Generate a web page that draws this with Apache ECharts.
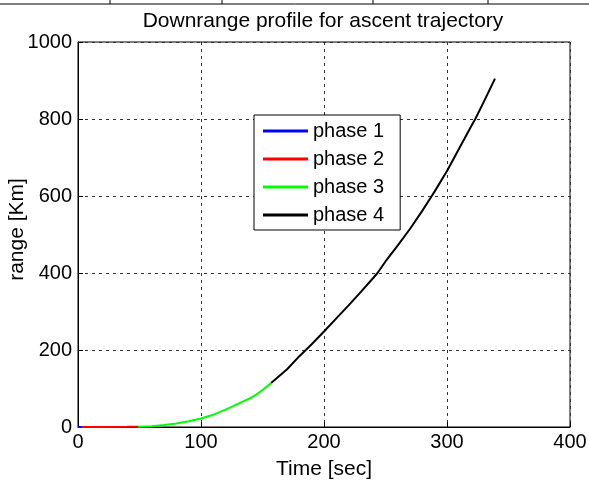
<!DOCTYPE html>
<html><head><meta charset="utf-8">
<script src="https://cdn.jsdelivr.net/npm/echarts@6/dist/echarts.min.js"></script>
<style>html,body{margin:0;padding:0;background:#fff}#c{width:589px;height:481px}</style>
</head><body><div id="c"></div>
<script>
const titleText = 'Downrange profile for ascent trajectory';
const xTicks = [0, 100, 200, 300, 400];
const yTicks = [0, 200, 400, 600, 800, 1000];
const seriesNames = ['phase 1', 'phase 2', 'phase 3', 'phase 4'];
const seriesColors = ['#0000ff', '#ff0000', '#00ff00', '#000000'];
const phase1T = [0, 1, 2, 3];
const phase1R = [0, 0, 0, 0.02];
const phase2T = [3, 10, 20, 30, 40, 49];
const phase2R = [0.02, 0.05, 0.12, 0.22, 0.35, 0.5];
const phase3T = [49, 60, 70, 80, 90, 100, 110, 120, 130, 140, 145, 150, 157];
const phase3R = [0.5, 2, 5, 9, 15, 22, 32, 45, 60, 75, 84, 96, 114];
const phase4T = [157, 170, 180, 190, 200, 210, 220, 230, 240, 243.5, 250, 260, 270, 280, 287.6, 290, 300, 310, 320, 323, 330, 339];
const phase4R = [114, 150, 184, 215, 248, 282, 316, 351, 387, 400, 430, 472, 515, 562, 600, 612, 665, 724, 783, 800, 845, 905];

const zip = (a, b) => a.map((v, i) => [v, b[i]]);
const phases = [zip(phase1T, phase1R), zip(phase2T, phase2R), zip(phase3T, phase3R), zip(phase4T, phase4R)];
const font = 'Arial, "Liberation Sans", sans-serif';

const chart = echarts.init(document.getElementById('c'), null, {renderer: 'canvas'});
chart.setOption({
  animation: false,
  backgroundColor: '#fff',
  title: {text: titleText, left: 318, top: 6, textAlign: 'center',
    textStyle: {fontFamily: font, fontSize: 21, fontWeight: 'normal', color: '#000'}},
  grid: {left: 78, right: 19, top: 42, bottom: 54, containLabel: false, outerBoundsMode: 'none',
    show: true, borderColor: '#000', borderWidth: 1},
  legend: {
    data: seriesNames, orient: 'vertical', left: 254, top: 115,
    backgroundColor: '#fff', borderColor: '#000', borderWidth: 1,
    padding: [6, 16, 5, 9], itemWidth: 45, itemHeight: 3, itemGap: 8, icon: 'rect',
    textStyle: {fontFamily: font, fontSize: 20, color: '#000'}
  },
  xAxis: {
    type: 'value', min: xTicks[0], max: xTicks[xTicks.length - 1], interval: 100,
    name: 'Time [sec]', nameLocation: 'middle', nameGap: 32, nameMoveOverlap: false,
    nameTextStyle: {fontFamily: font, fontSize: 21, color: '#000'},
    axisLine: {show: true, onZero: false, lineStyle: {color: '#000', width: 1}},
    axisTick: {show: true, inside: true, length: 5, lineStyle: {color: '#000'}},
    axisLabel: {fontFamily: font, fontSize: 20, color: '#000', margin: 5, formatter: v => String(v)},
    splitLine: {show: true, lineStyle: {color: '#333', type: [3, 4], width: 1}}
  },
  yAxis: {
    type: 'value', min: yTicks[0], max: yTicks[yTicks.length - 1], interval: 200,
    name: 'range [Km]', nameLocation: 'middle', nameGap: 50, nameRotate: 90, nameMoveOverlap: false,
    nameTextStyle: {fontFamily: font, fontSize: 21, color: '#000', padding: [0, 0, 0, 10]},
    axisLine: {show: true, onZero: false, lineStyle: {color: '#000', width: 1}},
    axisTick: {show: true, inside: true, length: 5, lineStyle: {color: '#000'}},
    axisLabel: {fontFamily: font, fontSize: 20, color: '#000', margin: 6, formatter: v => String(v)},
    splitLine: {show: true, lineStyle: {color: '#333', type: [3, 4], width: 1}}
  },
  series: phases.map((d, i) => ({
    name: seriesNames[i], type: 'line', data: d, showSymbol: false, symbol: 'none',
    lineStyle: {color: seriesColors[i], width: 2}, itemStyle: {color: seriesColors[i]},
    z: 3 + i
  })),
  graphic: [
    {type: 'line', shape: {x1: 0, y1: 4, x2: 589, y2: 4}, style: {stroke: '#000', lineWidth: 1}},
    {type: 'line', shape: {x1: 110, y1: 0, x2: 110, y2: 4}, style: {stroke: '#000', lineWidth: 1}},
    {type: 'line', shape: {x1: 222, y1: 0, x2: 222, y2: 4}, style: {stroke: '#000', lineWidth: 1}},
    {type: 'line', shape: {x1: 373, y1: 0, x2: 373, y2: 4}, style: {stroke: '#000', lineWidth: 1}},
    {type: 'line', shape: {x1: 488, y1: 0, x2: 488, y2: 4}, style: {stroke: '#000', lineWidth: 1}}
  ]
});
</script></body></html>
